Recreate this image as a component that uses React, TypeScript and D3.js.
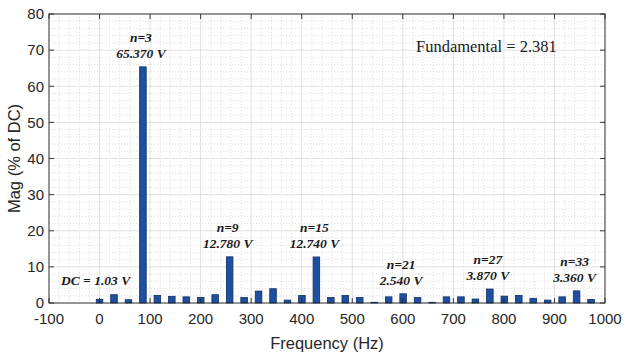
import React from "react";
import * as d3 from "d3";

// Harmonic spectrum of the output voltage
const fundamentalHz = 28.6;
const harmonicOrders = [
  0, 1, 2, 3, 4, 5, 6, 7, 8, 9, 10, 11, 12, 13, 14, 15, 16, 17, 18, 19, 20, 21, 22, 23, 24, 25,
  26, 27, 28, 29, 30, 31, 32, 33, 34,
];
const magnitudes = [
  1.03, 2.3, 0.9, 65.37, 2.1, 1.85, 1.7, 1.5, 2.3, 12.78, 1.5, 3.3, 3.95, 0.8, 2.1, 12.74, 1.5, 2.1,
  1.5, 0.2, 1.7, 2.54, 1.5, 0.2, 1.7, 1.7, 1.1, 3.87, 1.9, 2.1, 1.3, 0.8, 1.7, 3.36, 1.0,
];

// Annotated harmonics
const labelledOrders = [3, 9, 15, 21, 27, 33];
const labelValues = ["65.370 V", "12.780 V", "12.740 V", "2.540 V", "3.870 V", "3.360 V"];
const dcLabel = "DC = 1.03 V";
const fundamentalText = "Fundamental = 2.381";

const xTicks = [-100, 0, 100, 200, 300, 400, 500, 600, 700, 800, 900, 1000];
const yTicks = [0, 10, 20, 30, 40, 50, 60, 70, 80];

const W = 624;
const H = 353;
const left = 49;
const right = 605;
const top = 14;
const bottom = 303;

export default function App() {
  const x = d3.scaleLinear().domain([-100, 1000]).range([left, right]);
  const y = d3.scaleLinear().domain([0, 80]).range([bottom, top]);

  const xMinor = d3.range(-100, 1000.1, 20).filter((v) => v % 100 !== 0);
  const yMinor = d3.range(0, 80.1, 2).filter((v) => v % 10 !== 0);

  const barW = x(13) - x(0);
  const axisColor = "#262626";
  const tick = 5;

  const serif = "'Liberation Serif', 'Times New Roman', serif";
  const sans = "'Liberation Sans', Arial, Helvetica, sans-serif";

  const bars = harmonicOrders.map((n, i) => ({
    n,
    f: n * fundamentalHz,
    v: magnitudes[i],
  }));

  return (
    <div style={{ position: "fixed", left: 0, top: 0 }}>
      <svg width={W} height={H} style={{ display: "block", background: "#fff" }}>
        {/* minor grid */}
        <g stroke="#d4d4d4" strokeWidth={0.7} strokeDasharray="1.2,1.8">
          {xMinor.map((v) => (
            <line key={"xm" + v} x1={x(v)} x2={x(v)} y1={top} y2={bottom} />
          ))}
          {yMinor.map((v) => (
            <line key={"ym" + v} x1={left} x2={right} y1={y(v)} y2={y(v)} />
          ))}
        </g>
        {/* major grid */}
        <g stroke="#dcdcdc" strokeWidth={0.9}>
          {xTicks.map((v) => (
            <line key={"xg" + v} x1={x(v)} x2={x(v)} y1={top} y2={bottom} />
          ))}
          {yTicks.map((v) => (
            <line key={"yg" + v} x1={left} x2={right} y1={y(v)} y2={y(v)} />
          ))}
        </g>

        {/* bars */}
        <g fill="#1f50a0" stroke="#0e2f66" strokeWidth={0.8}>
          {bars.map((b) => (
            <rect
              key={b.n}
              x={x(b.f) - barW / 2}
              y={y(b.v)}
              width={barW}
              height={Math.max(0.6, y(0) - y(b.v))}
            />
          ))}
        </g>

        {/* axes box and ticks */}
        <rect
          x={left}
          y={top}
          width={right - left}
          height={bottom - top}
          fill="none"
          stroke={axisColor}
          strokeWidth={0.9}
        />
        <g stroke={axisColor} strokeWidth={0.9}>
          {xTicks.map((v) => (
            <g key={"xt" + v}>
              <line x1={x(v)} x2={x(v)} y1={bottom} y2={bottom - tick} />
              <line x1={x(v)} x2={x(v)} y1={top} y2={top + tick} />
            </g>
          ))}
          {yTicks.map((v) => (
            <g key={"yt" + v}>
              <line x1={left} x2={left + tick} y1={y(v)} y2={y(v)} />
              <line x1={right} x2={right - tick} y1={y(v)} y2={y(v)} />
            </g>
          ))}
        </g>

        {/* tick labels */}
        <g fontFamily={sans} fontSize={15} fill={axisColor}>
          {xTicks.map((v) => (
            <text key={"xl" + v} x={x(v)} y={323.5} textAnchor="middle">
              {v}
            </text>
          ))}
          {yTicks.map((v) => (
            <text key={"yl" + v} x={44} y={y(v) + 5.3} textAnchor="end">
              {v}
            </text>
          ))}
        </g>

        {/* axis titles */}
        <text
          x={(left + right) / 2}
          y={349}
          textAnchor="middle"
          fontFamily={sans}
          fontSize={16.5}
          fill={axisColor}
        >
          Frequency (Hz)
        </text>
        <text
          transform={`translate(20,${(top + bottom) / 2}) rotate(-90)`}
          textAnchor="middle"
          fontFamily={sans}
          fontSize={16.5}
          fill={axisColor}
        >
          Mag (% of DC)
        </text>

        {/* harmonic annotations */}
        <g fontFamily={serif} fontSize={13.5} fontWeight="bold" fontStyle="italic" fill="#1a1a1a">
          {labelledOrders.map((n, i) => {
            const b = bars.find((d) => d.n === n)!;
            const cx = x(b.f) - 2;
            const base = y(b.v) - 9;
            return (
              <g key={"lab" + n}>
                <text x={cx} y={base - 16} textAnchor="middle">
                  {"n=" + n}
                </text>
                <text x={cx} y={base} textAnchor="middle">
                  {labelValues[i]}
                </text>
              </g>
            );
          })}
          <text x={x(bars[0].f) - 4} y={y(bars[0].v) - 14} textAnchor="middle">
            {dcLabel}
          </text>
        </g>

        <text x={x(626)} y={y(69.5)} fontFamily={serif} fontSize={16.5} fill="#1a1a1a">
          {fundamentalText}
        </text>
      </svg>
    </div>
  );
}
